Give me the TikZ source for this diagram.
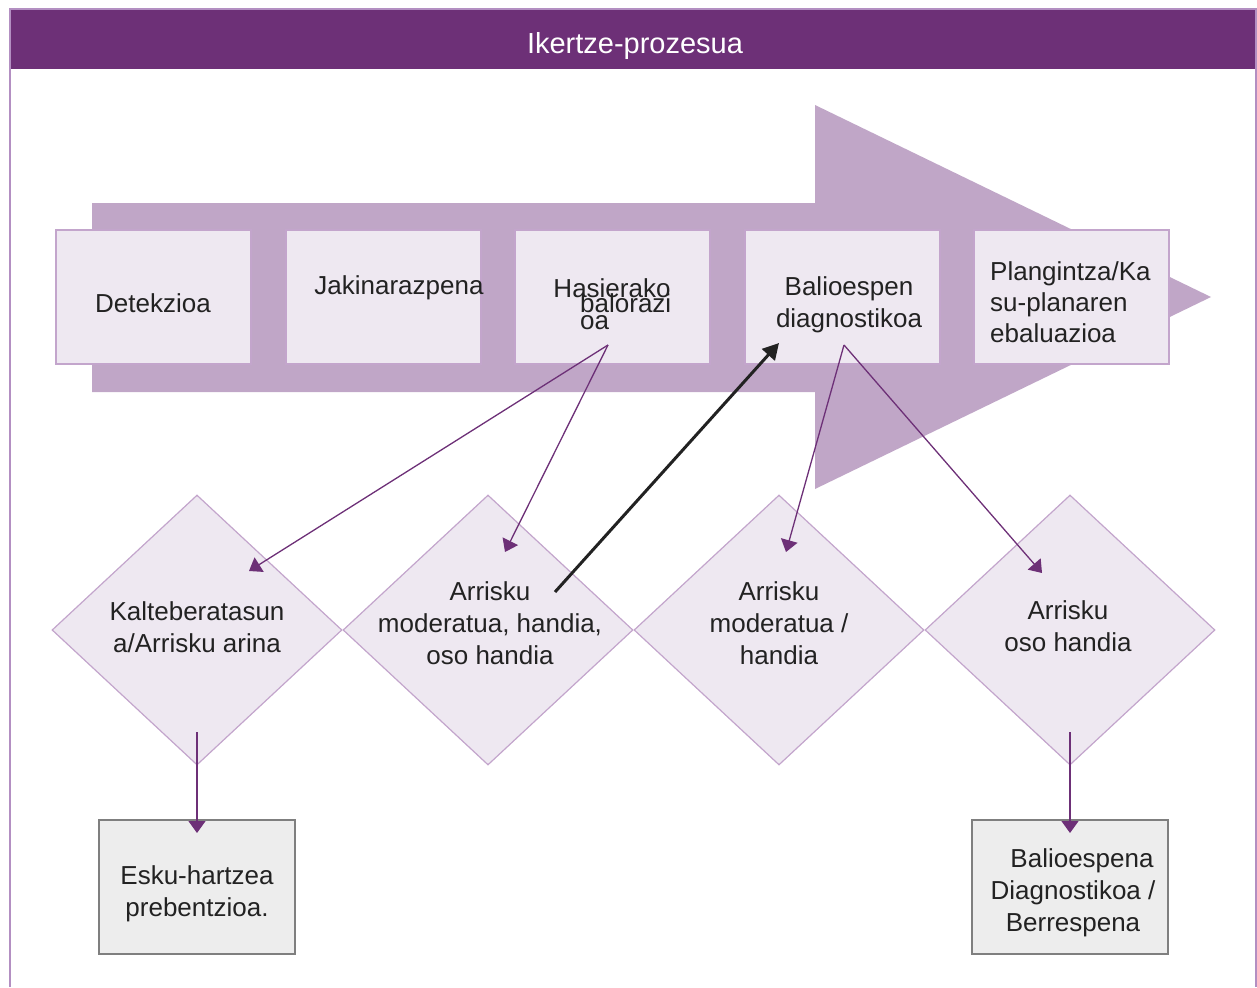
\documentclass[tikz,border=0pt]{standalone}
\usepackage{fontspec}
\setmainfont{Liberation Sans}
\usetikzlibrary{arrows.meta,shapes.geometric}
\definecolor{plum}{HTML}{6D3077}
\definecolor{bandfill}{HTML}{C0A6C7}
\definecolor{boxfill}{HTML}{EEE8F1}
\definecolor{boxline}{HTML}{C3A5CC}
\definecolor{frameline}{HTML}{B38FC2}
\definecolor{greyfill}{HTML}{EDEDED}
\definecolor{greyline}{HTML}{7F7F7F}
\definecolor{ink}{HTML}{222222}
\begin{document}
\begin{tikzpicture}[
        x=1pt, y=-1pt,
        stage/.style={draw=boxline, fill=boxfill, line width=1.5pt, minimum width=195pt, minimum height=134pt, inner sep=0pt},
        risk/.style={draw=boxline, fill=boxfill, line width=1.2pt, diamond, minimum width=290pt, minimum height=270pt, inner sep=0pt},
        result/.style={draw=greyline, fill=greyfill, line width=1.3pt, minimum width=196pt, minimum height=134pt, inner sep=0pt},
        txt/.style={text=ink, inner sep=0pt, align=center, font=\fontsize{26}{32}\selectfont},
        flow/.style={-{Triangle[length=12pt, width=17pt]}, draw=plum, line width=1.3pt},
        back/.style={-{Triangle[length=16pt, width=17pt]}, draw=ink, line width=3pt}
    ]
        \useasboundingbox (0,0) rectangle (1257,987);
        \draw[frameline, line width=1.5pt] (10,987) -- (10,9) -- (1256,9) -- (1256,987);
        \fill[plum] (11,10) rectangle (1255.2,69);
        \node[txt, text=white, font=\fontsize{29}{32}\selectfont] (title) at (635,46) {Ikertze-prozesua};
        \fill[bandfill] (92,203) -- (815,203) -- (815,105) -- (1211,297) -- (815,489) -- (815,392) -- (92,392) -- cycle;
        \node[stage] (s1) at (153.5,297) {};
        \node[stage] (s2) at (383.5,297) {};
        \node[stage] (s3) at (612.5,297) {};
        \node[stage] (s4) at (842.5,297) {};
        \node[stage] (s5) at (1071.5,297) {};
        \node[txt] (t1) at (153,303) {Detekzioa};
        \node[txt] (t2) at (399,288) {Jakinarazpena};
        \node[txt] (t3) at (612,288) {Hasierako};
        \node[txt, anchor=west, align=left, font=\fontsize{26}{17}\selectfont] (t3b) at (580,312) {balorazi\\oa};
        \node[txt] (t4) at (849,305) {Balioespen\\diagnostikoa};
        \node[txt, anchor=west, align=left, font=\fontsize{26}{31}\selectfont] (t5) at (990,302) {Plangintza/Ka\\su-planaren\\ebaluazioa};
        \node[risk] (r1) at (197,630) {};
        \node[risk] (r2) at (488,630) {};
        \node[risk] (r3) at (779,630) {};
        \node[risk] (r4) at (1070,630) {};
        \node[txt] (k1) at (197,627) {Kalteberatasun\\a/Arrisku arina};
        \node[txt] (k2) at (490,623) {Arrisku\\moderatua, handia,\\oso handia};
        \node[txt] (k3) at (779,623) {Arrisku\\moderatua /\\handia};
        \node[txt] (k4) at (1068,626) {Arrisku\\oso handia};
        \node[result] (e1) at (197,887) {};
        \node[result] (e2) at (1070,887) {};
        \node[txt] (m1) at (197,894) {Esku-hartzea\\prebentzioa.};
        \node[txt] (m2) at (1073,893) {\hspace{18pt}Balioespena\\Diagnostikoa /\\Berrespena};
        \coordinate (h3) at (608,345);
        \coordinate (h4) at (844,345);
        \coordinate (a1) at (249,571);
        \coordinate (a2) at (505,552);
        \coordinate (a3) at (786,552);
        \coordinate (a4) at (1042,573);
        \coordinate (b2) at (555,592);
        \coordinate (b4) at (779,343);
        \coordinate (d1) at (197,732);
        \coordinate (d4) at (1070,732);
        \draw[flow] (h3) -- (a1);
        \draw[flow] (h3) -- (a2);
        \draw[flow] (h4) -- (a3);
        \draw[flow] (h4) -- (a4);
        \draw[back] (b2) -- (b4);
        \draw[flow] (d1) -- (e1.north |- 0,833);
        \draw[flow] (d4) -- (e2.north |- 0,833);
    \end{tikzpicture}
\end{document}
